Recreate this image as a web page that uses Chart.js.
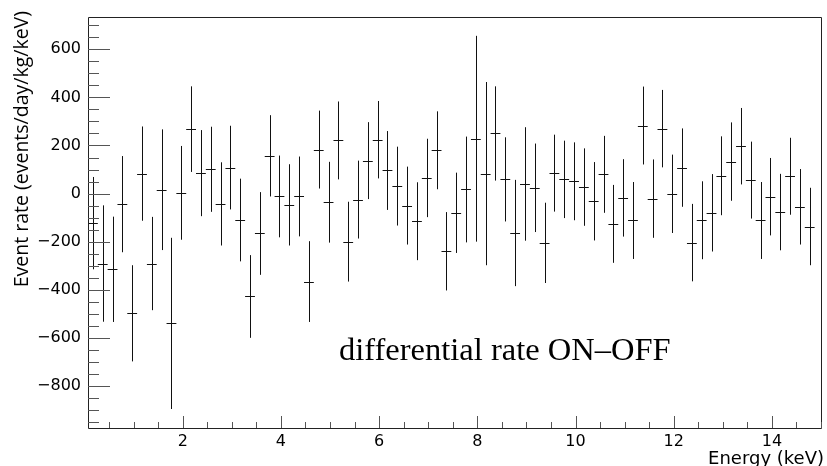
<!DOCTYPE html>
<html>
<head>
<meta charset="utf-8">
<script src="https://cdn.jsdelivr.net/npm/chart.js@4.4.0/dist/chart.umd.min.js"></script>
<style>
  body { margin: 0; background: #fff; }
  #wrap { width: 827px; height: 466px; }
</style>
</head>
<body>
<div id="wrap"><canvas id="rateChart" width="827" height="466"></canvas></div>
<script>
// bin centres (keV), bin width 0.2 keV
const energy = [0.17, 0.37, 0.57, 0.77, 0.97, 1.17, 1.37, 1.57, 1.77, 1.97,
  2.17, 2.37, 2.57, 2.77, 2.97, 3.17, 3.37, 3.57, 3.77, 3.97,
  4.17, 4.37, 4.57, 4.77, 4.97, 5.17, 5.37, 5.57, 5.77, 5.97,
  6.17, 6.37, 6.57, 6.77, 6.97, 7.17, 7.37, 7.57, 7.77, 7.97,
  8.17, 8.37, 8.57, 8.77, 8.97, 9.17, 9.37, 9.57, 9.77, 9.97,
  10.17, 10.37, 10.57, 10.77, 10.97, 11.17, 11.37, 11.57, 11.77, 11.97,
  12.17, 12.37, 12.57, 12.77, 12.97, 13.17, 13.37, 13.57, 13.77, 13.97,
  14.17, 14.37, 14.57, 14.77];
const halfBin = 0.1;

// differential rate ON-OFF (events/day/kg/keV)
const rate = [-123, -291, -315, -44, -498, 83, -291, 16, -540, 3,
  268, 85, 101, -43, 108, -110, -428, -166, 157, -12,
  -47, -12, -366, 183, -36, 221, -200, -25, 137, 224,
  96, 31, -50, -115, 65, 180, -240, -80, 17, 228,
  83, 250, 59, -164, 40, 24, -205, 85, 59, 51,
  27, -32, 80, -126, -18, -112, 283, -21, 270, -1,
  108, -204, -111, -80, 74, 133, 197, 56, -112, -13,
  -77, 72, -55, -137];

const rateErr = [192, 242, 219, 200, 200, 196, 194, 251, 356, 195,
  178, 179, 177, 173, 174, 172, 172, 172, 169, 170,
  169, 166, 168, 162, 168, 162, 166, 162, 160, 161,
  164, 164, 162, 162, 163, 162, 163, 167, 220, 428,
  381, 196, 175, 221, 236, 184, 167, 160, 161, 162,
  161, 163, 160, 162, 161, 160, 162, 163, 161, 163,
  163, 161, 162, 161, 164, 163, 159, 160, 160, 161,
  159, 160, 157, 161];

const xTicks = [2, 4, 6, 8, 10, 12, 14];
const yTicks = [-800, -600, -400, -200, 0, 200, 400, 600];

// ROOT style: error crosses, inward ticks, frame, titles
const rootStyle = {
  id: 'rootStyle',
  afterDatasetsDraw(chart) {
    const ctx = chart.ctx, xs = chart.scales.x, ys = chart.scales.y;
    const area = chart.chartArea;
    ctx.save();
    ctx.beginPath();
    ctx.rect(area.left, area.top, area.right - area.left, area.bottom - area.top);
    ctx.clip();
    ctx.strokeStyle = '#111';
    ctx.lineWidth = 1;
    ctx.beginPath();
    for (let i = 0; i < energy.length; i++) {
      const px = Math.round(xs.getPixelForValue(energy[i])) + 0.5;
      const py = Math.round(ys.getPixelForValue(rate[i])) + 0.5;
      ctx.moveTo(px, ys.getPixelForValue(rate[i] + rateErr[i]));
      ctx.lineTo(px, ys.getPixelForValue(rate[i] - rateErr[i]));
      ctx.moveTo(xs.getPixelForValue(energy[i] - halfBin), py);
      ctx.lineTo(xs.getPixelForValue(energy[i] + halfBin), py);
    }
    ctx.stroke();
    ctx.restore();
  },
  afterDraw(chart) {
    const ctx = chart.ctx, xs = chart.scales.x, ys = chart.scales.y;
    const a = chart.chartArea;
    ctx.save();
    ctx.strokeStyle = '#222';
    ctx.lineWidth = 1;
    ctx.beginPath();
    ctx.rect(Math.round(a.left) + 0.5, Math.round(a.top) + 0.5,
      Math.round(a.right - a.left), Math.round(a.bottom - a.top));
    ctx.stroke();

    ctx.strokeStyle = '#555';
    ctx.beginPath();
    // x ticks
    for (let v = Math.ceil(xs.min / 0.5) * 0.5; v <= xs.max; v += 0.5) {
      const px = Math.round(xs.getPixelForValue(v)) + 0.5;
      const major = xTicks.includes(v);
      ctx.moveTo(px, a.bottom);
      ctx.lineTo(px, a.bottom - (major ? 12 : 6));
    }
    // y ticks
    for (let v = Math.ceil(ys.min / 50) * 50; v <= ys.max; v += 50) {
      const py = Math.round(ys.getPixelForValue(v)) + 0.5;
      const major = yTicks.includes(v);
      ctx.moveTo(a.left, py);
      ctx.lineTo(a.left + (major ? 22 : 11), py);
    }
    ctx.stroke();

    ctx.fillStyle = '#000';
    // x title
    ctx.font = '18px "DejaVu Sans"';
    ctx.textAlign = 'right';
    ctx.textBaseline = 'alphabetic';
    ctx.fillText('Energy (keV)', 824, 464);
    // y title
    ctx.save();
    ctx.translate(22, 11);
    ctx.rotate(-Math.PI / 2);
    ctx.font = '19.5px "Open Sans"';
    ctx.textAlign = 'right';
    ctx.textBaseline = 'middle';
    ctx.fillText('Event rate (events/day/kg/keV)', 0, 0);
    ctx.restore();
    // label
    ctx.font = '32.5px "Liberation Serif"';
    ctx.textAlign = 'left';
    ctx.fillText('differential rate ON\u2013OFF', 339, 360);
    ctx.restore();
  }
};

const tickFont = { family: 'DejaVu Sans', size: 16 };
const ctx = document.getElementById('rateChart').getContext('2d');
new Chart(ctx, {
  type: 'scatter',
  data: {
    datasets: [{
      label: 'ON-OFF',
      data: energy.map((e, i) => ({ x: e, y: rate[i] })),
      pointRadius: 0,
      showLine: false
    }]
  },
  options: {
    responsive: false,
    animation: false,
    layout: { padding: { left: 0, top: 9, right: 6, bottom: 0 } },
    plugins: { legend: { display: false }, tooltip: { enabled: false } },
    scales: {
      x: {
        type: 'linear',
        min: 0.07,
        max: 15.0,
        grid: { display: false, drawTicks: false },
        border: { display: false },
        afterBuildTicks: s => { s.ticks = xTicks.map(v => ({ value: v })); },
        afterFit: s => { s.height = 38; },
        ticks: { font: tickFont, color: '#000', padding: 4, maxRotation: 0 }
      },
      y: {
        min: -975,
        max: 736,
        grid: { display: false, drawTicks: false },
        border: { display: false },
        afterBuildTicks: s => { s.ticks = yTicks.map(v => ({ value: v })); },
        afterFit: s => { s.width = 88; },
        ticks: {
          font: tickFont, color: '#000', padding: 7,
          callback: v => String(v).replace('-', '\u2212')
        }
      }
    }
  },
  plugins: [rootStyle]
});
</script>
</body>
</html>
